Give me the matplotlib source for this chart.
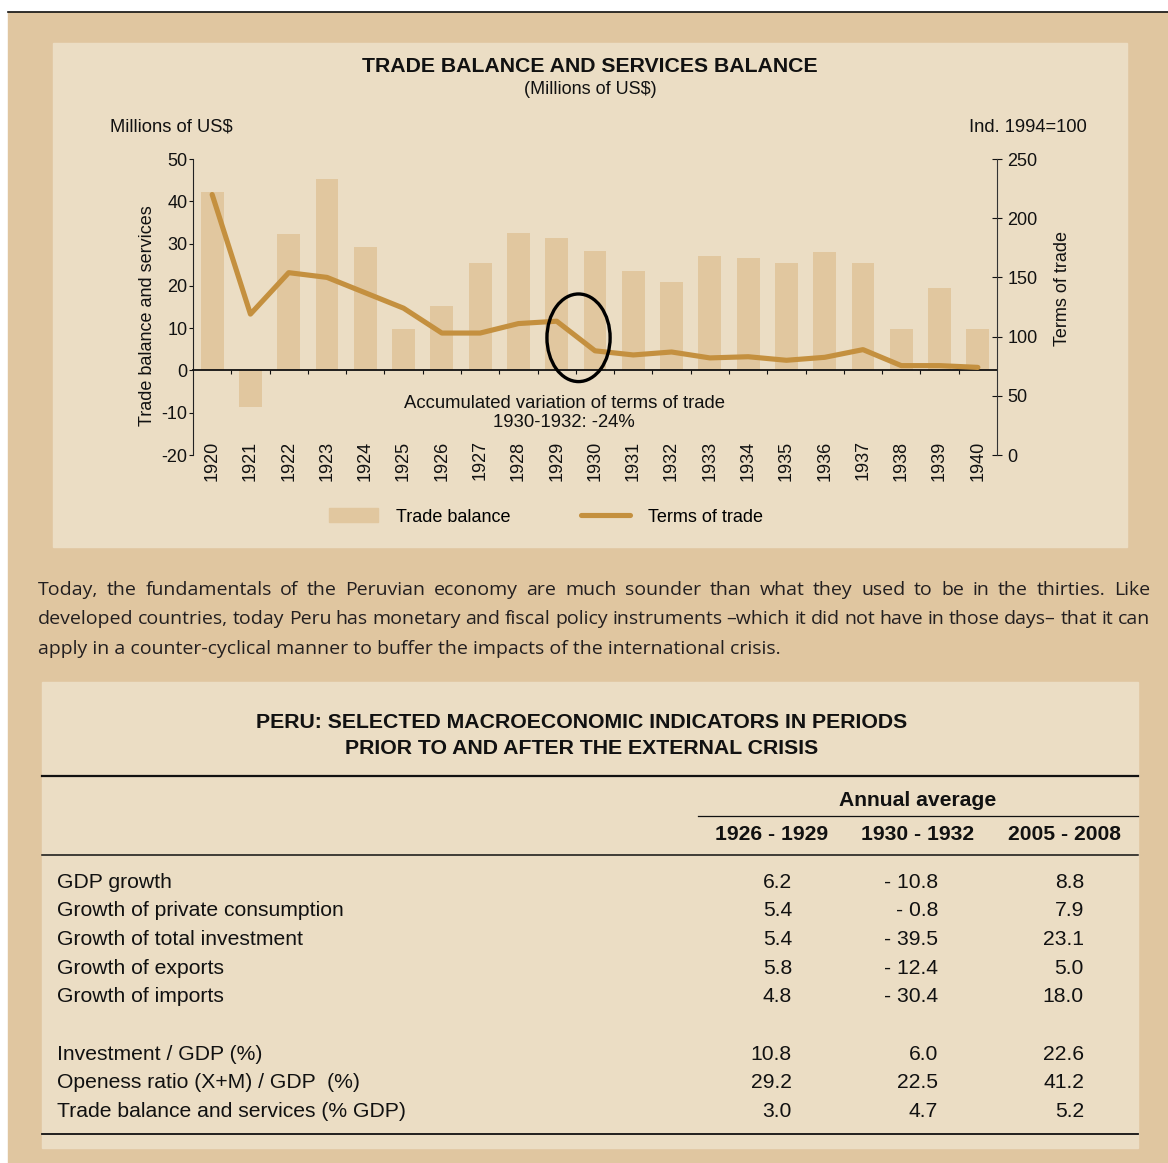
import numpy as np
import matplotlib.pyplot as plt
from matplotlib.patches import Rectangle, Ellipse
from matplotlib.lines import Line2D

plt.rcParams["axes.unicode_minus"] = False

# datos del gráfico
years = list(range(1920, 1941))
trade_balance = [42.2, -8.7, 32.2, 45.2, 29.2, 9.7, 15.2, 25.5, 32.6, 31.4, 28.2,
                 23.6, 20.8, 27.0, 26.5, 25.5, 27.9, 25.3, 9.7, 19.4, 9.7]
terms_of_trade = [220, 119, 154, 150, 137, 124, 103, 103, 111, 113, 88,
                  84.5, 87, 82, 83, 80, 82.5, 89, 75.5, 75.5, 74]

paragraph = [
    "Today, the fundamentals of the Peruvian economy are much sounder than what they used to be in the thirties. Like",
    "developed countries, today Peru has monetary and fiscal policy instruments \u2013which it did not have in those days\u2013 that it can",
    "apply in a counter-cyclical manner to buffer the impacts of the international crisis.",
]

# datos de la tabla
row_labels = ["GDP growth", "Growth of private consumption", "Growth of total investment",
              "Growth of exports", "Growth of imports", "Investment / GDP (%)",
              "Openess ratio (X+M) / GDP  (%)", "Trade balance and services (% GDP)"]
periods = ["1926 - 1929", "1930 - 1932", "2005 - 2008"]
col_1926_1929 = [6.2, 5.4, 5.4, 5.8, 4.8, 10.8, 29.2, 3.0]
col_1930_1932 = [-10.8, -0.8, -39.5, -12.4, -30.4, 6.0, 22.5, 4.7]
col_2005_2008 = [8.8, 7.9, 23.1, 5.0, 18.0, 22.6, 41.2, 5.2]

OUTER = "#e0c6a0"
PANEL = "#ebddc4"
BAR = "#e1c79f"
LINE = "#c4903f"
SANS = "Liberation Sans"
INK = "#111111"

W, H = 1168, 1163
fig = plt.figure(figsize=(W / 100, H / 100), dpi=100)
fig.patch.set_facecolor("white")


def fx(px):
    return px / W


def fy(py):
    return 1 - py / H


def rect(x0, y0, x1, y1, color):
    fig.patches.append(Rectangle((fx(x0), fy(y1)), fx(x1 - x0), (y1 - y0) / H,
                                 transform=fig.transFigure, color=color, zorder=-5))


def hline(y, x0, x1, lw):
    fig.lines.append(Line2D([fx(x0), fx(x1)], [fy(y), fy(y)], transform=fig.transFigure,
                            color=INK, lw=lw))


rect(8, 12, W, H, OUTER)
rect(53, 43, 1127, 547, PANEL)
rect(42, 682, 1138, 1148, PANEL)
hline(12, 8, W, 1.2)

# ---- gráfico ----
ax = fig.add_axes([fx(193), fy(455), fx(997 - 193), (455 - 159) / H])
ax.set_facecolor("none")
x = np.arange(len(years))
ax.bar(x, trade_balance, width=0.6, color=BAR, zorder=1)
ax.set_xlim(-0.5, len(years) - 0.5)
ax.set_ylim(-20, 50)
ax.set_yticks(np.arange(-20, 51, 10))
for s in ["top", "right"]:
    ax.spines[s].set_visible(False)
ax.spines["left"].set_color("#222222")
ax.spines["bottom"].set_position(("data", 0))
ax.spines["bottom"].set_color(INK)
ax.spines["bottom"].set_linewidth(1.3)
ax.set_xticks(x[:-1] + 0.5)
ax.set_xticklabels([])
ax.tick_params(axis="x", direction="out", length=3, color=INK)
ax.tick_params(axis="y", direction="out", length=3, pad=1, labelsize=13, colors=INK)
for lab in ax.get_yticklabels():
    lab.set_family(SANS)
for i, yr in enumerate(years):
    ax.text(i, -21.3, str(yr), rotation=90, ha="center", va="center", fontsize=13,
            family=SANS, color=INK, clip_on=False)
ax.set_ylabel("Trade balance and services", fontsize=13, family=SANS, color=INK)
ax.yaxis.set_label_coords(-0.046, 0.47)

ax2 = ax.twinx()
ax2.set_ylim(0, 250)
ax2.set_yticks(np.arange(0, 251, 50))
for s in ["top", "left", "bottom"]:
    ax2.spines[s].set_visible(False)
ax2.spines["right"].set_color("#333333")
ax2.tick_params(axis="y", direction="inout", length=7, pad=4, labelsize=13, colors=INK)
for lab in ax2.get_yticklabels():
    lab.set_family(SANS)
line, = ax2.plot(x, terms_of_trade, color=LINE, lw=3.7, solid_joinstyle="round",
                 solid_capstyle="round", zorder=3)
ax2.add_patch(Ellipse((9.57, 99), 1.65, 74, fill=False, ec="black", lw=2.4, zorder=4))
ax2.set_ylabel("Terms of trade", fontsize=13, family=SANS, color=INK)
ax2.yaxis.set_label_coords(1.071, 0.564)

ax.text(9.2, -10.1, "Accumulated variation of terms of trade\n1930-1932: -24%", ha="center",
        va="center", fontsize=13.3, family=SANS, linespacing=1.1, color=INK)

fig.text(fx(590), fy(67), "TRADE BALANCE AND SERVICES BALANCE", ha="center", va="center",
         fontsize=15.3, fontweight="bold", family=SANS, color=INK)
fig.text(fx(590), fy(90), "(Millions of US$)", ha="center", va="center",
         fontsize=13, family=SANS, color=INK)
fig.text(fx(110), fy(127), "Millions of US$", ha="left", va="center",
         fontsize=13.2, family=SANS, color=INK)
fig.text(fx(1087), fy(127), "Ind. 1994=100", ha="right", va="center",
         fontsize=13.2, family=SANS, color=INK)

bar_handle = Rectangle((0, 0), 1, 1, color=BAR)
leg = fig.legend([bar_handle, line], ["Trade balance", "Terms of trade"], loc="center",
                 bbox_to_anchor=(fx(546), fy(517)), ncol=2, frameon=False,
                 prop={"family": SANS, "size": 13}, handlelength=2.7, handleheight=0.8,
                 handletextpad=1.0, columnspacing=3.9)

# ---- párrafo justificado ----
renderer = fig.canvas.get_renderer()
para_kw = dict(fontsize=14, family="Open Sans", color="#231f20", va="center")
for n, txt in enumerate(paragraph):
    yy = fy(590 + n * 29.5)
    if n == len(paragraph) - 1:
        fig.text(fx(38), yy, txt, **para_kw)
        continue
    words = txt.split()
    items = [fig.text(0, yy, w, **para_kw) for w in words]
    widths = [t.get_window_extent(renderer).width for t in items]
    gap = (1150 - 38 - sum(widths)) / (len(words) - 1)
    xx = 38
    for t, w in zip(items, widths):
        t.set_x(fx(xx))
        xx += w + gap

# ---- tabla ----
tk = dict(family=SANS, color=INK, va="center")
fig.text(fx(582), fy(722), "PERU: SELECTED MACROECONOMIC INDICATORS IN PERIODS", ha="center",
         fontsize=15.3, fontweight="bold", **tk)
fig.text(fx(582), fy(749), "PRIOR TO AND AFTER THE EXTERNAL CRISIS", ha="center",
         fontsize=15.3, fontweight="bold", **tk)
hline(776, 42, 1138, 1.6)
fig.text(fx(918), fy(801), "Annual average", ha="center", fontsize=15.2, fontweight="bold", **tk)
hline(816, 698, 1138, 0.9)
col_centers = [772, 918, 1064]
for c, p in zip(col_centers, periods):
    fig.text(fx(c), fy(835), p, ha="center", fontsize=15.2, fontweight="bold", **tk)
hline(855, 42, 1138, 1.1)


def fmt(v):
    return f"- {abs(v):.1f}" if v < 0 else f"{v:.1f}"


row_y = [882 + 28.7 * k for k in (0, 1, 2, 3, 4, 6, 7, 8)]
col_right = [792, 938, 1084]
for k, lab in enumerate(row_labels):
    fig.text(fx(57), fy(row_y[k]), lab, ha="left", fontsize=15.2, **tk)
    for cr, col in zip(col_right, [col_1926_1929, col_1930_1932, col_2005_2008]):
        fig.text(fx(cr), fy(row_y[k]), fmt(col[k]), ha="right", fontsize=15.2, **tk)
hline(1134, 42, 1138, 1.3)

fig.savefig("out.png", dpi=100, facecolor=fig.get_facecolor())
